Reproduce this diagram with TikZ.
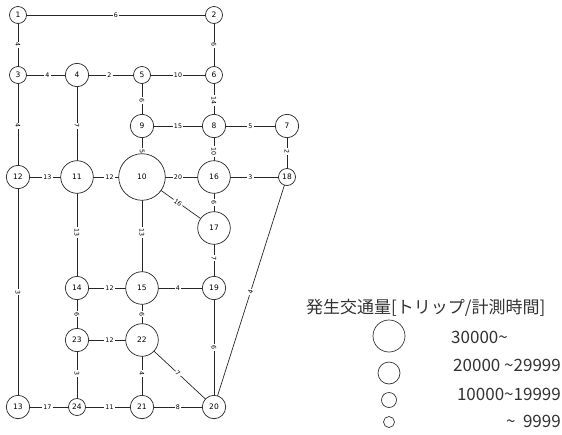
\documentclass[tikz,border=0pt]{standalone}
\usepackage{fontspec}
\setmainfont{DejaVu Sans}
\newfontfamily\jpfont{Noto Sans CJK JP}
\pgfdeclarelayer{bg}
\pgfsetlayers{bg,main}
\tikzset{
  nd/.style={circle, draw=black!85, fill=white, line width=0.7pt, inner sep=0pt, font=\fontsize{7.5}{8}\selectfont},
  sa/.style={nd, minimum size=17pt},
  sb/.style={nd, minimum size=23.4pt},
  sc/.style={nd, minimum size=32.6pt},
  sd/.style={nd, minimum size=46.6pt},
  el/.style={fill=white, inner sep=1.3pt, sloped, font=\fontsize{6.3}{6.3}\selectfont},
  ed/.style={draw=black!85, line width=0.7pt},
  lg/.style={circle, draw=black!80, line width=0.7pt, inner sep=0pt},
  lt/.style={font=\jpfont\fontsize{17}{19}\selectfont, text=black!80, inner sep=0pt}
}
\begin{document}
\begin{tikzpicture}[x=1pt,y=-1pt]
\useasboundingbox (0,0) rectangle (562,434);
% nodes
\node[sa] (n1) at (18,15) {1};
\node[sa] (n2) at (214,15) {2};
\node[sa] (n3) at (18,75) {3};
\node[sb] (n4) at (77,75) {4};
\node[sa] (n5) at (142,75) {5};
\node[sa] (n6) at (214,75) {6};
\node[sb] (n9) at (142,126) {9};
\node[sb] (n8) at (214,126) {8};
\node[sb] (n7) at (287,126) {7};
\node[sb] (n12) at (18,177) {12};
\node[sc] (n11) at (77,177) {11};
\node[sd] (n10) at (142,177) {10};
\node[sc] (n16) at (214,177) {16};
\node[sa] (n18) at (287,177) {18};
\node[sc] (n17) at (214,228) {17};
\node[sb] (n14) at (77,288) {14};
\node[sc] (n15) at (142,288) {15};
\node[sb] (n19) at (214,288) {19};
\node[sb] (n23) at (77,340) {23};
\node[sc] (n22) at (142,340) {22};
\node[sb] (n13) at (18,407) {13};
\node[sa] (n24) at (77,407) {24};
\node[sb] (n21) at (142,407) {21};
\node[sb] (n20) at (214,407) {20};
% edges
\begin{pgfonlayer}{bg}
\draw[ed] (n1.center) -- node[el]{6} (n2.center);
\draw[ed] (n1.center) -- node[el]{4} (n3.center);
\draw[ed] (n2.center) -- node[el]{6} (n6.center);
\draw[ed] (n3.center) -- node[el]{4} (n4.center);
\draw[ed] (n4.center) -- node[el]{2} (n5.center);
\draw[ed] (n5.center) -- node[el]{10} (n6.center);
\draw[ed] (n5.center) -- node[el]{6} (n9.center);
\draw[ed] (n6.center) -- node[el]{14} (n8.center);
\draw[ed] (n4.center) -- node[el]{7} (n11.center);
\draw[ed] (n3.center) -- node[el]{4} (n12.center);
\draw[ed] (n9.center) -- node[el]{15} (n8.center);
\draw[ed] (n8.center) -- node[el]{5} (n7.center);
\draw[ed] (n9.center) -- node[el]{5} (n10.center);
\draw[ed] (n8.center) -- node[el]{10} (n16.center);
\draw[ed] (n7.center) -- node[el]{2} (n18.center);
\draw[ed] (n12.center) -- node[el]{13} (n11.center);
\draw[ed] (n11.center) -- node[el]{12} (n10.center);
\draw[ed] (n10.center) -- node[el]{20} (n16.center);
\draw[ed] (n16.center) -- node[el]{3} (n18.center);
\draw[ed] (n10.center) -- node[el]{16} (n17.center);
\draw[ed] (n16.center) -- node[el]{6} (n17.center);
\draw[ed] (n11.center) -- node[el]{13} (n14.center);
\draw[ed] (n10.center) -- node[el]{13} (n15.center);
\draw[ed] (n17.center) -- node[el]{7} (n19.center);
\draw[ed] (n18.center) -- node[el]{4} (n20.center);
\draw[ed] (n12.center) -- node[el]{3} (n13.center);
\draw[ed] (n14.center) -- node[el]{12} (n15.center);
\draw[ed] (n15.center) -- node[el]{4} (n19.center);
\draw[ed] (n14.center) -- node[el]{6} (n23.center);
\draw[ed] (n15.center) -- node[el]{6} (n22.center);
\draw[ed] (n19.center) -- node[el]{6} (n20.center);
\draw[ed] (n23.center) -- node[el]{12} (n22.center);
\draw[ed] (n23.center) -- node[el]{3} (n24.center);
\draw[ed] (n22.center) -- node[el]{4} (n21.center);
\draw[ed] (n22.center) -- node[el]{7} (n20.center);
\draw[ed] (n13.center) -- node[el]{17} (n24.center);
\draw[ed] (n24.center) -- node[el]{11} (n21.center);
\draw[ed] (n21.center) -- node[el]{8} (n20.center);
\end{pgfonlayer}
% legend
\node[lt, anchor=west] (lgt) at (306,308) {発生交通量[トリップ/計測時間]};
\node[lg, minimum size=32pt] (lc1) at (389,336) {};
\node[lg, minimum size=22pt] (lc2) at (389,373) {};
\node[lg, minimum size=15pt] (lc3) at (389,400) {};
\node[lg, minimum size=11pt] (lc4) at (389,422) {};
\node[lt, anchor=west] (lx1) at (451,337) {30000\textasciitilde};
\node[lt, anchor=east] (lx2) at (561,365) {20000 \textasciitilde29999};
\node[lt, anchor=east] (lx3) at (561,394) {10000\textasciitilde19999};
\node[lt, anchor=east] (lx4) at (561,421) {\textasciitilde\ \ 9999};
\end{tikzpicture}
\end{document}
